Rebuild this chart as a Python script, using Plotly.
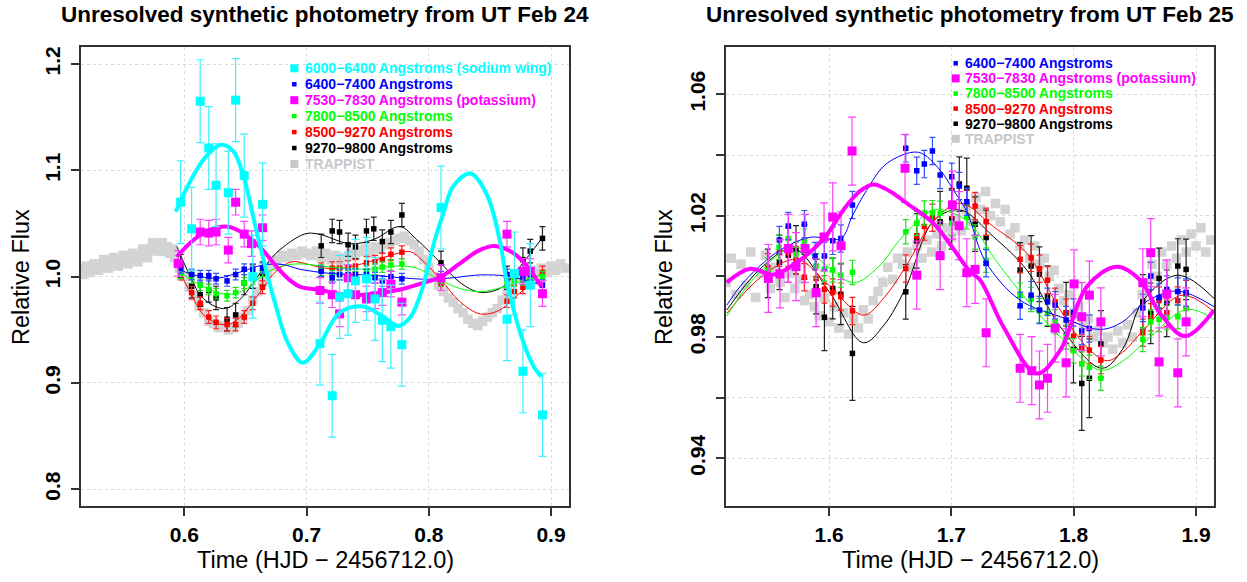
import plotly.graph_objects as go

W, H = 1247, 582
FONT = "Liberation Sans, Arial, Helvetica, sans-serif"

# ---------------- colours ----------------
CYAN = "#00ffff"
BLUE = "#0000ff"
MAG = "#ff00ff"
GREEN = "#00ff00"
RED = "#ff0000"
BLACK = "#000000"
GRAY = "#d3d3d3"

# ================= LEFT PANEL (UT Feb 24) =================
trap1_x = [0.516, 0.518, 0.520, 0.522, 0.524, 0.526, 0.528, 0.530, 0.532, 0.534, 0.536, 0.538,
           0.540, 0.542, 0.544, 0.546, 0.548, 0.550, 0.552, 0.554, 0.556, 0.558, 0.560, 0.562,
           0.564, 0.566, 0.568, 0.570, 0.572, 0.574, 0.576, 0.578, 0.580, 0.582, 0.584, 0.586,
           0.588, 0.590, 0.592, 0.596, 0.600, 0.604, 0.608,
           0.612, 0.616, 0.620, 0.624, 0.628, 0.632, 0.636, 0.640, 0.644, 0.648, 0.652, 0.656,
           0.660, 0.664, 0.668, 0.672, 0.676, 0.680, 0.684, 0.688, 0.692, 0.696, 0.700, 0.704,
           0.708, 0.712, 0.716, 0.720, 0.724, 0.728, 0.732, 0.736, 0.740, 0.744, 0.748, 0.752,
           0.756, 0.760, 0.764, 0.768, 0.772, 0.776, 0.780, 0.784, 0.788, 0.792, 0.796, 0.800,
           0.804, 0.808, 0.812, 0.816, 0.820, 0.824, 0.828, 0.832, 0.836, 0.840, 0.844, 0.848,
           0.852, 0.856, 0.860, 0.864, 0.868, 0.872, 0.876, 0.880, 0.884, 0.888, 0.892, 0.896,
           0.900, 0.904, 0.908, 0.912]
trap1_y = [1.008, 1.002, 1.010, 1.004, 1.006, 1.012, 1.012, 1.006, 1.010, 1.016, 1.014, 1.008,
           1.012, 1.018, 1.016, 1.010, 1.014, 1.020, 1.018, 1.012, 1.016, 1.022, 1.020, 1.014,
           1.018, 1.026, 1.024, 1.018, 1.026, 1.032, 1.030, 1.024, 1.028, 1.032, 1.024, 1.028,
           1.022, 1.026, 1.018, 1.008, 1.000, 0.990, 0.982,
           0.972, 0.966, 0.958, 0.956, 0.952, 0.954, 0.950, 0.952, 0.956, 0.962, 0.968, 0.978,
           0.986, 0.995, 1.004, 1.010, 1.016, 1.020, 1.018, 1.022, 1.020, 1.024, 1.022, 1.020,
           1.024, 1.018, 1.022, 1.016, 1.020, 1.014, 1.018, 1.022, 1.020, 1.024, 1.026, 1.022,
           1.028, 1.026, 1.030, 1.032, 1.034, 1.036, 1.038, 1.034, 1.030, 1.024, 1.016, 1.008,
           1.000, 0.992, 0.986, 0.980, 0.976, 0.970, 0.966, 0.960, 0.956, 0.954, 0.958, 0.962,
           0.966, 0.970, 0.978, 0.986, 0.994, 1.000, 1.004, 1.002, 1.006, 1.004, 1.008, 1.004,
           1.010, 1.006, 1.012, 1.008]

cyan1_x = [0.597, 0.606, 0.613, 0.620, 0.626, 0.636, 0.642, 0.649, 0.656, 0.664, 0.711, 0.721,
           0.727, 0.734, 0.740, 0.749, 0.756, 0.762, 0.769, 0.778, 0.810, 0.864, 0.870, 0.877,
           0.883, 0.893]
cyan1_y = [1.070, 1.045, 1.165, 1.121, 1.086, 1.079, 1.166, 1.095, 1.000, 1.068, 0.937, 0.888,
           0.981, 0.984, 0.996, 0.998, 0.979, 0.959, 0.953, 0.936, 1.065, 0.960, 1.003, 0.911,
           0.992, 0.870]
cyan1_err = [0.039] * len(cyan1_x)
cyan1_fit_x = [0.593, 0.605, 0.617, 0.630, 0.640, 0.6486, 0.657, 0.665, 0.675, 0.685, 0.697,
               0.711, 0.727, 0.746, 0.7625, 0.775, 0.785, 0.795, 0.805, 0.8118, 0.820, 0.834,
               0.8472, 0.8581, 0.8636, 0.8767, 0.886, 0.892]
cyan1_fit_y = [1.061, 1.090, 1.112, 1.124, 1.118, 1.094, 1.053, 1.015, 0.972, 0.937, 0.919,
               0.937, 0.966, 0.972, 0.9625, 0.9536, 0.962, 0.990, 1.035, 1.059, 1.085, 1.097,
               1.078, 1.034, 0.997, 0.9405, 0.915, 0.906]

blue1_x = [0.597, 0.606, 0.613, 0.620, 0.626, 0.635, 0.642, 0.649, 0.656, 0.664, 0.712, 0.721,
           0.727, 0.734, 0.740, 0.749, 0.756, 0.762, 0.769, 0.778, 0.810, 0.864, 0.877, 0.883,
           0.893]
blue1_y = [1.008, 1.002, 1.001, 1.001, 0.998, 0.996, 1.002, 1.007, 1.007, 1.008, 1.005, 0.999,
           1.002, 1.002, 1.002, 1.002, 0.999, 0.996, 1.000, 0.998, 1.000, 1.002, 1.000, 1.002,
           0.992]
blue1_err = [0.005] * len(blue1_x)
blue1_fit_x = [0.595, 0.610, 0.6265, 0.645, 0.6646, 0.680, 0.6946, 0.720, 0.749, 0.7995, 0.820,
               0.8418, 0.8636, 0.8925]
blue1_fit_y = [1.007, 1.001, 0.9985, 1.004, 1.011, 1.0115, 1.007, 1.003, 1.0016, 0.9975, 0.999,
               1.0016, 1.0005, 0.9922]

mag1_x = [0.595, 0.613, 0.620, 0.626, 0.636, 0.642, 0.649, 0.655, 0.664, 0.711, 0.721, 0.727,
          0.734, 0.740, 0.749, 0.756, 0.762, 0.769, 0.778, 0.810, 0.864, 0.877, 0.883, 0.893]
mag1_y = [1.0125, 1.042, 1.041, 1.042, 1.025, 1.070, 1.040, 1.031, 1.046, 0.987, 0.983, 0.965,
          0.999, 0.983, 0.979, 0.982, 0.985, 0.993, 0.976, 0.999, 1.040, 1.005, 1.005, 0.984]
mag1_err = [0.012] * len(mag1_x)
mag1_fit_x = [0.5938, 0.605, 0.617, 0.628, 0.636, 0.645, 0.655, 0.6646, 0.675, 0.685, 0.6946,
              0.711, 0.735, 0.755, 0.7777, 0.795, 0.810, 0.825, 0.840, 0.8527, 0.865, 0.8759,
              0.8922]
mag1_fit_y = [1.0187, 1.032, 1.042, 1.0465, 1.047, 1.043, 1.035, 1.0245, 1.010, 0.998, 0.9906,
              0.9875, 0.9826, 0.984, 0.9882, 0.994, 1.000, 1.012, 1.024, 1.0289, 1.025, 1.0157,
              0.9906]

green1_x = [0.597, 0.606, 0.613, 0.620, 0.626, 0.635, 0.642, 0.649, 0.656, 0.664, 0.712, 0.721,
            0.727, 0.734, 0.740, 0.749, 0.756, 0.762, 0.769, 0.778, 0.810, 0.864, 0.870, 0.877,
            0.883, 0.893]
green1_y = [1.003, 0.999, 0.992, 0.988, 0.984, 0.982, 0.985, 0.994, 0.998, 1.005, 1.006, 1.001,
            1.002, 1.001, 1.003, 1.005, 1.007, 1.009, 1.011, 1.012, 0.996, 0.995, 0.996, 0.997,
            0.998, 1.000]
green1_err = [0.005] * len(green1_x)
green1_fit_x = [0.595, 0.610, 0.6347, 0.650, 0.665, 0.680, 0.6946, 0.720, 0.750, 0.775, 0.790,
                0.809, 0.825, 0.8418, 0.860, 0.8925]
green1_fit_y = [1.006, 0.994, 0.9834, 0.988, 1.002, 1.010, 1.012, 1.009, 1.007, 1.010, 1.008,
                0.997, 0.989, 0.9859, 0.990, 1.002]

red1_x = [0.597, 0.606, 0.613, 0.620, 0.626, 0.635, 0.642, 0.649, 0.656, 0.664, 0.712, 0.721,
          0.727, 0.734, 0.740, 0.749, 0.756, 0.762, 0.769, 0.778, 0.810, 0.864, 0.870, 0.877,
          0.883, 0.893]
red1_y = [1.003, 0.985, 0.975, 0.962, 0.957, 0.955, 0.955, 0.962, 0.975, 0.990, 1.007, 1.008,
          1.008, 1.009, 1.010, 1.013, 1.014, 1.016, 1.021, 1.023, 0.993, 0.977, 0.986, 0.990,
          0.996, 1.004]
red1_err = [0.006] * len(red1_x)
red1_fit_x = [0.594, 0.605, 0.615, 0.625, 0.635, 0.645, 0.655, 0.665, 0.675, 0.688, 0.700, 0.715,
              0.730, 0.745, 0.760, 0.775, 0.785, 0.795, 0.810, 0.825, 0.842, 0.857, 0.870, 0.8925]
red1_fit_y = [1.010, 0.985, 0.965, 0.957, 0.955, 0.961, 0.975, 0.990, 1.005, 1.014, 1.012, 1.008,
              1.008, 1.012, 1.017, 1.022, 1.0235, 1.015, 0.997, 0.977, 0.965, 0.968, 0.980, 1.004]

black1_x = [0.597, 0.606, 0.613, 0.620, 0.626, 0.635, 0.642, 0.649, 0.656, 0.664, 0.712, 0.721,
            0.727, 0.734, 0.740, 0.749, 0.755, 0.762, 0.769, 0.778, 0.810, 0.864, 0.877, 0.883,
            0.893]
black1_y = [1.010, 0.991, 0.983, 0.987, 0.980, 0.960, 0.964, 0.994, 1.000, 1.003, 1.029, 1.043,
            1.042, 1.030, 1.028, 1.043, 1.045, 1.033, 1.042, 1.058, 1.013, 0.999, 1.016, 1.024,
            1.036]
black1_err = [0.011] * len(black1_x)
black1_fit_x = [0.5938, 0.605, 0.615, 0.632, 0.645, 0.660, 0.675, 0.6987, 0.710, 0.7355, 0.755,
                0.7764, 0.790, 0.810, 0.825, 0.842, 0.860, 0.875, 0.8925]
black1_fit_y = [1.0285, 1.000, 0.980, 0.970, 0.978, 1.000, 1.022, 1.0402, 1.040, 1.031, 1.035,
                1.0471, 1.035, 1.0126, 0.995, 0.9853, 0.990, 1.010, 1.036]

# ================= RIGHT PANEL (UT Feb 25) =================
trap2_x = [1.516, 1.520, 1.524, 1.528, 1.532, 1.536, 1.540, 1.544, 1.548, 1.552, 1.556, 1.560,
           1.564, 1.568, 1.572, 1.576, 1.580, 1.584, 1.588, 1.592, 1.596, 1.600, 1.604, 1.608,
           1.612, 1.616, 1.620, 1.624, 1.628, 1.632, 1.636, 1.640, 1.644, 1.648, 1.652, 1.656,
           1.660, 1.664, 1.668, 1.672, 1.676, 1.680, 1.684, 1.688, 1.692, 1.696, 1.700, 1.704,
           1.708, 1.712, 1.716, 1.720, 1.724, 1.728, 1.732, 1.736, 1.740, 1.744, 1.748, 1.752,
           1.756, 1.760, 1.764, 1.768, 1.772, 1.776, 1.780, 1.784, 1.788, 1.792, 1.796, 1.800,
           1.804, 1.808, 1.812, 1.816, 1.820, 1.824, 1.828, 1.832, 1.836, 1.840, 1.844, 1.848,
           1.852, 1.856, 1.860, 1.864, 1.868, 1.872, 1.876, 1.880, 1.884, 1.888, 1.892, 1.896,
           1.900, 1.904, 1.908, 1.912]
trap2_y = [0.998, 1.006, 0.994, 1.004, 0.997, 1.008, 0.993, 1.001, 1.007, 0.996, 1.003, 0.998,
           0.993, 1.001, 0.996, 0.999, 0.992, 0.994, 0.990, 0.987, 0.993, 0.985, 0.990, 0.983,
           0.988, 0.981, 0.986, 0.983, 0.989, 0.986, 0.992, 0.995, 0.998, 1.003, 0.999, 1.006,
           1.004, 1.008, 1.003, 1.010, 1.006, 1.012, 1.008, 1.014, 1.010, 1.016, 1.013, 1.019,
           1.015, 1.022, 1.018, 1.026, 1.022, 1.028, 1.020, 1.024, 1.018, 1.022, 1.014, 1.016,
           1.010, 1.012, 1.006, 1.010, 1.004, 1.006, 1.000, 1.002, 0.996, 0.992, 0.994, 0.988,
           0.990, 0.984, 0.986, 0.980, 0.982, 0.978, 0.980, 0.976, 0.982, 0.978, 0.984, 0.980,
           0.988, 0.994, 0.998, 1.004, 1.000, 1.008, 1.004, 1.010, 1.006, 1.012, 1.008, 1.014,
           1.010, 1.016, 1.008, 1.012]

blue2_x = [1.5594, 1.5667, 1.5798, 1.5886, 1.5962, 1.6030, 1.6096, 1.6191, 1.6627, 1.6717,
           1.6779, 1.6845, 1.6908, 1.7003, 1.7065, 1.7126, 1.7284, 1.7562, 1.7652, 1.7720,
           1.7786, 1.7848, 1.7938, 1.7998, 1.8066, 1.8128, 1.8565, 1.8630, 1.8698, 1.8761,
           1.8851, 1.8919]
blue2_y = [1.0120, 1.0166, 1.0172, 1.0067, 1.0067, 1.0117, 1.0125, 1.0235, 1.0422, 1.0348,
           1.0370, 1.0413, 1.0334, 1.0328, 1.0298, 1.0246, 1.0043, 0.9903, 0.9938, 0.9889,
           0.9916, 0.9905, 0.9856, 0.9881, 0.9820, 0.9828, 0.9896, 1.0001, 0.9930, 0.9957,
           0.9950, 0.9947]
blue2_err = [0.0045] * len(blue2_x)
blue2_fit_x = [1.5164, 1.530, 1.549, 1.5627, 1.5845, 1.6096, 1.6191, 1.6308, 1.6472, 1.673,
               1.6908, 1.7017, 1.7126, 1.728, 1.756, 1.789, 1.8217, 1.840, 1.857, 1.8843, 1.9148]
blue2_fit_y = [0.9905, 0.998, 1.0054, 1.0093, 1.0129, 1.0125, 1.020, 1.0284, 1.0372, 1.0409,
               1.035, 1.0284, 1.0213, 1.0048, 0.9922, 0.9867, 0.9825, 0.985, 0.9911, 0.9952, 0.990]

mag2_x = [1.5504, 1.5599, 1.5667, 1.5730, 1.5804, 1.5894, 1.5959, 1.6030, 1.6098, 1.6188,
          1.6621, 1.6717, 1.6908, 1.7008, 1.7063, 1.7126, 1.7194, 1.7284, 1.7562, 1.7657,
          1.7720, 1.7786, 1.7848, 1.7938, 1.8003, 1.8066, 1.8128, 1.8222, 1.8565, 1.8630,
          1.8698, 1.8761, 1.8851, 1.8919]
mag2_y = [0.9993, 1.0008, 1.0092, 1.0032, 1.0092, 0.9946, 1.0130, 1.0196, 1.0101, 1.0413,
          1.0356, 1.0004, 1.0068, 1.0235, 1.0167, 1.0012, 1.0023, 0.9814, 0.9697, 0.9689,
          0.9642, 0.9664, 0.9829, 0.9715, 0.9975, 0.9867, 0.9938, 0.9850, 0.9979, 1.0078,
          0.9718, 0.9942, 0.9682, 0.9850]
mag2_err = [0.0112] * len(mag2_x)
mag2_fit_x = [1.5164, 1.5354, 1.555, 1.575, 1.5959, 1.6117, 1.625, 1.6362, 1.650, 1.6635,
              1.6853, 1.700, 1.7153, 1.7235, 1.7425, 1.7698, 1.789, 1.8107, 1.8352, 1.8543,
              1.8706, 1.8911, 1.9148]
mag2_fit_y = [0.998, 1.0025, 1.0006, 1.005, 1.0125, 1.0219, 1.028, 1.0303, 1.028, 1.0241,
              1.0175, 1.010, 1.0015, 0.9988, 0.9834, 0.968, 0.9757, 0.9966, 1.0032, 0.9988,
              0.9878, 0.9803, 0.9889]

green2_x = [1.5499, 1.5591, 1.5667, 1.5730, 1.5798, 1.5894, 1.5962, 1.6030, 1.6096, 1.6191,
            1.6627, 1.6717, 1.6779, 1.6845, 1.6908, 1.7003, 1.7126, 1.7194, 1.7284, 1.7562,
            1.7652, 1.7720, 1.7786, 1.7848, 1.7938, 1.7998, 1.8066, 1.8128, 1.8222, 1.8565,
            1.8630, 1.8698, 1.8761, 1.8851, 1.8919]
green2_y = [1.0020, 1.0096, 1.0125, 1.0073, 1.0116, 1.0034, 1.0024, 1.0021, 1.0004, 1.0013,
            1.0147, 1.0175, 1.0209, 1.0210, 1.0208, 1.0175, 1.0196, 1.0130, 1.0053, 0.9938,
            0.9924, 0.9887, 0.9878, 0.9850, 0.9800, 0.9755, 0.9711, 0.9700, 0.9664, 0.9792,
            0.9850, 0.9858, 0.9864, 0.9867, 0.9894]
green2_err = [0.004] * len(green2_x)
green2_fit_x = [1.5164, 1.540, 1.5708, 1.590, 1.6199, 1.640, 1.660, 1.6853, 1.700, 1.7153, 1.735,
                1.756, 1.789, 1.8217, 1.840, 1.857, 1.8925, 1.9148]
green2_fit_y = [0.9869, 1.000, 1.0096, 1.006, 0.9979, 1.003, 1.013, 1.0219, 1.021, 1.0175, 1.006,
                0.995, 0.980, 0.9691, 0.972, 0.9779, 0.9891, 0.9858]

red2_x = [1.5499, 1.5594, 1.5667, 1.5730, 1.5798, 1.5894, 1.5962, 1.6030, 1.6096, 1.6191,
          1.6627, 1.6717, 1.6779, 1.6845, 1.7003, 1.7126, 1.7194, 1.7284, 1.7562, 1.7652,
          1.7720, 1.7786, 1.7848, 1.7938, 1.7998, 1.8066, 1.8128, 1.8222, 1.8565, 1.8630,
          1.8698, 1.8761, 1.8851, 1.8919]
red2_y = [1.0030, 1.0078, 1.0078, 1.0054, 0.9997, 0.9993, 0.9957, 0.9947, 0.9933, 0.9886,
          1.0026, 1.0134, 1.0164, 1.0193, 1.0241, 1.0240, 1.0232, 1.0180, 1.0056, 1.0061,
          1.0025, 0.9987, 0.9916, 0.9880, 0.9803, 0.9763, 0.9757, 0.9724, 0.9814, 0.9865,
          0.9920, 0.9880, 0.9920, 0.9942]
red2_err = [0.0045] * len(red2_x)
red2_fit_x = [1.5164, 1.545, 1.5738, 1.600, 1.628, 1.645, 1.6627, 1.685, 1.7071, 1.7343, 1.7616,
              1.789, 1.810, 1.827, 1.840, 1.857, 1.8884, 1.9148]
red2_fit_y = [0.9878, 1.000, 1.0056, 0.997, 0.9872, 0.993, 1.0032, 1.018, 1.0241, 1.0164, 1.0076,
              0.9889, 0.977, 0.9722, 0.975, 0.9822, 0.9938, 0.9883]

black2_x = [1.5499, 1.5594, 1.5667, 1.5730, 1.5798, 1.5894, 1.5962, 1.6030, 1.6096, 1.6191,
            1.6627, 1.6717, 1.6908, 1.7003, 1.7065, 1.7126, 1.7194, 1.7284, 1.7562, 1.7652,
            1.7720, 1.7786, 1.7938, 1.7998, 1.8066, 1.8128, 1.8222, 1.8565, 1.8630, 1.8698,
            1.8761, 1.8851, 1.8919]
black2_y = [1.0010, 1.0046, 1.0070, 1.0087, 1.0080, 0.9966, 0.9865, 0.9960, 0.9941, 0.9746,
            0.9949, 1.0117, 1.0180, 1.0190, 1.0304, 1.0290, 1.0172, 1.0128, 1.0021, 1.0034,
            1.0007, 0.9935, 0.9880, 0.9759, 0.9647, 0.9664, 0.9777, 0.9916, 0.9878, 0.9993,
            0.9911, 1.0034, 1.0023]
black2_err = [0.008, 0.009, 0.009, 0.008, 0.009, 0.009, 0.011, 0.010, 0.010, 0.0155,
              0.009, 0.009, 0.010, 0.010, 0.009, 0.010, 0.009, 0.009, 0.009, 0.010,
              0.009, 0.010, 0.010, 0.011, 0.0155, 0.013, 0.011, 0.009, 0.010, 0.010,
              0.011, 0.009, 0.010]
black2_fit_x = [1.5164, 1.545, 1.5708, 1.600, 1.628, 1.645, 1.6627, 1.6853, 1.707, 1.7343,
                1.7616, 1.789, 1.823, 1.840, 1.857, 1.8856, 1.9148]
black2_fit_y = [0.9889, 1.003, 1.0092, 0.995, 0.9781, 0.984, 0.9963, 1.0182, 1.0219, 1.0131,
                1.0021, 0.9834, 0.9697, 0.976, 0.9922, 1.0004, 0.9927]

# ---------------- legend texts ----------------
legend1 = [("6000−6400 Angstroms (sodium wing)", CYAN, 8),
           ("6400−7400 Angstroms", BLUE, 4.5),
           ("7530−7830 Angstroms (potassium)", MAG, 8),
           ("7800−8500 Angstroms", GREEN, 4.5),
           ("8500−9270 Angstroms", RED, 4.5),
           ("9270−9800 Angstroms", BLACK, 4.5),
           ("TRAPPIST", "#c8c8c8", 8)]
legend2 = legend1[1:]

title1 = "Unresolved synthetic photometry from UT Feb 24"
title2 = "Unresolved synthetic photometry from UT Feb 25"
xlabel = "Time (HJD − 2456712.0)"
ylabel = "Relative Flux"

fig = go.Figure()


def pts(x, y, err, color, size, xa, ya, cap, ecolor):
    fig.add_trace(go.Scatter(
        x=x, y=y, mode="markers", xaxis=xa, yaxis=ya, showlegend=False,
        marker=dict(symbol="square", size=size, color=color, line=dict(width=0)),
        error_y=dict(type="data", array=err, symmetric=True, visible=True,
                     color=ecolor, thickness=1.2, width=cap)))


def fit(x, y, color, width, xa, ya):
    fig.add_trace(go.Scatter(x=x, y=y, mode="lines", xaxis=xa, yaxis=ya, showlegend=False,
                             line=dict(color=color, width=width, shape="spline", smoothing=1.0)))


# left panel
fig.add_trace(go.Scatter(x=trap1_x, y=trap1_y, mode="markers", xaxis="x", yaxis="y",
                         showlegend=False,
                         marker=dict(symbol="square", size=9.5, color=GRAY, line=dict(width=0))))
for (px_, py_, e, c, ec, s, cap, fx, fy, lw) in [
        (black1_x, black1_y, black1_err, BLACK, "#222222", 5.5, 3, black1_fit_x, black1_fit_y, 1),
        (red1_x, red1_y, red1_err, RED, "#ff2020", 5.5, 3, red1_fit_x, red1_fit_y, 1),
        (green1_x, green1_y, green1_err, GREEN, "#20e020", 5.5, 3, green1_fit_x, green1_fit_y, 1),
        (blue1_x, blue1_y, blue1_err, BLUE, "#3050ff", 5.5, 3, blue1_fit_x, blue1_fit_y, 1),
        (mag1_x, mag1_y, mag1_err, MAG, "#ff40ff", 9, 4, mag1_fit_x, mag1_fit_y, 4),
        (cyan1_x, cyan1_y, cyan1_err, CYAN, "#40f0ff", 9, 4, cyan1_fit_x, cyan1_fit_y, 4)]:
    pts(px_, py_, e, c, s, "x", "y", cap, ec)
    fit(fx, fy, c, lw, "x", "y")

# right panel
fig.add_trace(go.Scatter(x=trap2_x, y=trap2_y, mode="markers", xaxis="x2", yaxis="y2",
                         showlegend=False,
                         marker=dict(symbol="square", size=9.5, color=GRAY, line=dict(width=0))))
for (px_, py_, e, c, ec, s, cap, fx, fy, lw) in [
        (black2_x, black2_y, black2_err, BLACK, "#222222", 5.5, 3, black2_fit_x, black2_fit_y, 1),
        (red2_x, red2_y, red2_err, RED, "#ff2020", 5.5, 3, red2_fit_x, red2_fit_y, 1),
        (green2_x, green2_y, green2_err, GREEN, "#20e020", 5.5, 3, green2_fit_x, green2_fit_y, 1),
        (blue2_x, blue2_y, blue2_err, BLUE, "#3050ff", 5.5, 3, blue2_fit_x, blue2_fit_y, 1),
        (mag2_x, mag2_y, mag2_err, MAG, "#ff40ff", 9, 4, mag2_fit_x, mag2_fit_y, 4)]:
    pts(px_, py_, e, c, s, "x2", "y2", cap, ec)
    fit(fx, fy, c, lw, "x2", "y2")


def X(p):
    return p / W


def Y(p):
    return 1 - p / H


common_axis = dict(showline=True, mirror=True, linecolor="#333333", linewidth=1.5,
                   ticks="outside", ticklen=8, tickwidth=1.5, tickcolor="#333333",
                   showgrid=True, gridcolor="#d9d9d9", griddash="dot", gridwidth=1,
                   zeroline=False,
                   tickfont=dict(family=FONT, size=21, color="black", weight="bold"))

fig.update_layout(
    width=W, height=H, margin=dict(l=0, r=0, t=0, b=0),
    paper_bgcolor="white", plot_bgcolor="white", showlegend=False,
    xaxis=dict(domain=[X(81), X(569)], range=[0.5155, 0.9147],
               tickvals=[0.6, 0.7, 0.8, 0.9], ticktext=["0.6", "0.7", "0.8", "0.9"],
               anchor="y", ticklabelstandoff=1, **common_axis),
    yaxis=dict(domain=[Y(506), Y(47)], range=[0.7843, 1.216],
               tickvals=[0.8, 0.9, 1.0, 1.1, 1.2], ticktext=["0.8", "0.9", "1.0", "1.1", "1.2"],
               tickangle=-90, anchor="x", ticklabelstandoff=3, **common_axis),
    xaxis2=dict(domain=[X(725.7), X(1214)], range=[1.5155, 1.9147],
                tickvals=[1.6, 1.7, 1.8, 1.9], ticktext=["1.6", "1.7", "1.8", "1.9"],
                anchor="y2", ticklabelstandoff=1, **common_axis),
    yaxis2=dict(domain=[Y(506), Y(47)], range=[0.9243, 1.0756],
                tickvals=[0.94, 0.96, 0.98, 1.00, 1.02, 1.04, 1.06],
                ticktext=["0.94", "", "0.98", "", "1.02", "", "1.06"],
                tickangle=-90, anchor="x2", ticklabelstandoff=3, **common_axis),
)

ann = []
shapes = []
for cx, t in [(325, title1), (970, title2)]:
    ann.append(dict(x=X(cx), y=Y(14), xref="paper", yref="paper", text="<b>" + t + "</b>",
                    showarrow=False, xanchor="center", yanchor="middle",
                    font=dict(family=FONT, size=22.5, color="black")))
for cx in [325, 970]:
    ann.append(dict(x=X(cx), y=Y(560), xref="paper", yref="paper", text=xlabel,
                    showarrow=False, xanchor="center", yanchor="middle",
                    font=dict(family=FONT, size=23.5, color="black")))
for cx in [21, 664]:
    ann.append(dict(x=X(cx), y=Y(277), xref="paper", yref="paper", text=ylabel, textangle=-90,
                    showarrow=False, xanchor="center", yanchor="middle",
                    font=dict(family=FONT, size=23.5, color="black")))

for items, mx, tx, y0, dy in [(legend1, 294.3, 303.3, 68.3, 15.95), (legend2, 955.7, 963.3, 63.3, 15.1)]:
    for i, (txt, col, sz) in enumerate(items):
        yy = y0 + i * dy
        ann.append(dict(x=X(tx), y=Y(yy), xref="paper", yref="paper", text="<b>" + txt + "</b>",
                        showarrow=False, xanchor="left", yanchor="middle",
                        font=dict(family=FONT, size=14, color=col)))
        shapes.append(dict(type="rect", xref="paper", yref="paper",
                           x0=X(mx - sz / 2), x1=X(mx + sz / 2), y0=Y(yy + sz / 2), y1=Y(yy - sz / 2),
                           fillcolor=col, line=dict(width=0)))

fig.update_layout(annotations=ann, shapes=shapes)
fig.write_html("out.html")
